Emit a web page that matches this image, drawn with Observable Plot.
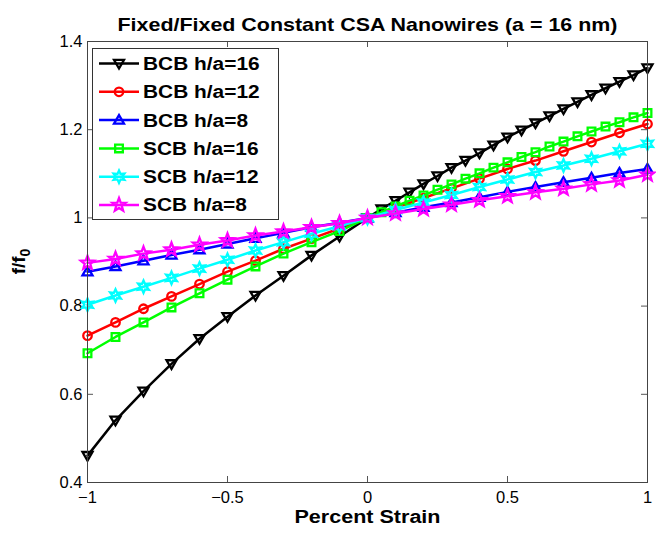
<!DOCTYPE html>
<html><head><meta charset="utf-8">
<script src="https://cdn.jsdelivr.net/npm/d3@7"></script>
<script src="https://cdn.jsdelivr.net/npm/@observablehq/plot@0.6"></script>
<style>body{margin:0;background:#fff;} svg{display:block}</style>
</head><body><div id="chart"></div>
<script>
const titleText = "Fixed/Fixed Constant CSA Nanowires (a = 16 nm)";
const xLabel = "Percent Strain";
const seriesNames = ["BCB h/a=16","BCB h/a=12","BCB h/a=8","SCB h/a=16","SCB h/a=12","SCB h/a=8"];
const seriesColors = ["#000000","#ff0000","#0000ff","#00ff00","#00ffff","#ff00ff"];

const xCoarse = [-1,-0.9,-0.8,-0.7,-0.6,-0.5,-0.4,-0.3,-0.2,-0.1,0,0.1,0.2,0.3,0.4,0.5,0.6,0.7,0.8,0.9,1];
const xFine = [-1,-0.9,-0.8,-0.7,-0.6,-0.5,-0.4,-0.3,-0.2,-0.1,0,0.05,0.1,0.15,0.2,0.25,0.3,0.35,0.4,0.45,0.5,0.55,0.6,0.65,0.7,0.75,0.8,0.85,0.9,0.95,1];

const bcb16 = [0.461,0.541,0.607,0.669,0.726,0.776,0.824,0.869,0.915,0.958,1.000,1.020,1.039,1.058,1.077,1.095,1.114,1.130,1.147,1.165,1.183,1.199,1.215,1.231,1.247,1.263,1.279,1.294,1.309,1.324,1.340];
const bcb12 = [0.733,0.763,0.794,0.822,0.850,0.878,0.903,0.930,0.953,0.976,1.000,1.023,1.045,1.067,1.089,1.111,1.130,1.151,1.172,1.193,1.213];
const bcb8  = [0.878,0.890,0.903,0.916,0.928,0.941,0.954,0.966,0.979,0.989,1.000,1.012,1.024,1.035,1.047,1.059,1.070,1.081,1.091,1.102,1.111];
const scb16 = [0.693,0.730,0.763,0.797,0.829,0.860,0.890,0.919,0.945,0.970,1.000,1.013,1.026,1.039,1.051,1.064,1.076,1.089,1.101,1.114,1.126,1.138,1.149,1.162,1.173,1.185,1.196,1.207,1.217,1.228,1.238];
const scb12 = [0.803,0.824,0.844,0.864,0.885,0.905,0.926,0.945,0.964,0.981,1.000,1.018,1.035,1.052,1.070,1.087,1.104,1.119,1.134,1.151,1.168];
const scb8  = [0.898,0.907,0.919,0.928,0.939,0.949,0.960,0.969,0.979,0.988,1.000,1.010,1.020,1.030,1.040,1.049,1.058,1.066,1.076,1.085,1.098];

const xTicks = [-1,-0.5,0,0.5,1];
const xTickLabels = ["\u22121","\u22120.5","0","0.5","1"];
const yTicks = [0.4,0.6,0.8,1,1.2,1.4];
const yTickLabels = ["0.4","0.6","0.8","1","1.2","1.4"];

// marker shapes (MATLAB-like)
function starSym(points, inner) {
  return {draw(ctx, size) {
    const R = Math.sqrt(size / Math.PI), r = R * inner;
    for (let i = 0; i < points * 2; i++) {
      const rad = i % 2 === 0 ? R : r;
      const a = -Math.PI / 2 + i * Math.PI / points;
      const x = rad * Math.cos(a), y = rad * Math.sin(a);
      if (i === 0) ctx.moveTo(x, y); else ctx.lineTo(x, y);
    }
    ctx.closePath();
  }};
}
const triDown = {draw(ctx, size) {const r = Math.sqrt(size / Math.PI); ctx.moveTo(0, r); ctx.lineTo(-r, -0.72 * r); ctx.lineTo(r, -0.72 * r); ctx.closePath();}};
const triUp = {draw(ctx, size) {const r = Math.sqrt(size / Math.PI); ctx.moveTo(0, -r); ctx.lineTo(-r, 0.72 * r); ctx.lineTo(r, 0.72 * r); ctx.closePath();}};
const circ = {draw(ctx, size) {const r = Math.sqrt(size / Math.PI) * 0.85; ctx.moveTo(r, 0); ctx.arc(0, 0, r, 0, 2 * Math.PI);}};
const sq = {draw(ctx, size) {const r = Math.sqrt(size / Math.PI) * 0.8; ctx.rect(-r, -r, 2 * r, 2 * r);}};
const hexa = starSym(6, 0.5);
const penta = starSym(5, 0.42);

const symbols = [triDown, circ, triUp, sq, hexa, penta];
const radii = [5, 5, 5, 4.8, 6.2, 7];
const seriesY = [bcb16, bcb12, bcb8, scb16, scb12, scb8];
const seriesX = [xFine, xCoarse, xCoarse, xFine, xCoarse, xCoarse];

const W = 656, H = 533, mL = 87, mR = 9, mT = 41, mB = 51;
const frameW = W - mL - mR, frameH = H - mT - mB;
const font = "'Liberation Sans', Arial, Helvetica, sans-serif";

const marks = [];
seriesY.forEach((ys, i) => {
  const rows = ys.map((v, j) => ({x: seriesX[i][j], y: v}));
  marks.push(Plot.line(rows, {x: "x", y: "y", stroke: seriesColors[i], strokeWidth: 2.5}));
  marks.push(Plot.dot(rows, {x: "x", y: "y", stroke: seriesColors[i], fill: "none", strokeWidth: 2.3, symbol: symbols[i], r: radii[i]}));
});

const plot = Plot.plot({
  width: W, height: H,
  marginLeft: mL, marginRight: mR, marginTop: mT, marginBottom: mB,
  style: {fontFamily: font, fontSize: "16px", background: "#fff", overflow: "visible"},
  x: {domain: [-1, 1]},
  y: {domain: [0.4, 1.4]},
  marks: [
    Plot.axisX({ticks: xTicks, tickFormat: (d) => xTickLabels[xTicks.indexOf(d)], tickSize: 0, tickPadding: 9, label: null, fontSize: 16.5, fill: "#000"}),
    Plot.axisY({ticks: yTicks, tickFormat: (d) => yTickLabels[yTicks.findIndex(t => Math.abs(t - d) < 1e-9)], tickSize: 0, tickPadding: 5, label: null, fontSize: 16.5, fill: "#000"}),
    Plot.tickX(xTicks.slice(1, -1), {x: (d) => d, insetTop: frameH - 6, stroke: "#555"}),
    Plot.tickX(xTicks.slice(1, -1), {x: (d) => d, insetBottom: frameH - 6, stroke: "#555"}),
    Plot.tickY(yTicks.slice(1, -1), {y: (d) => d, insetRight: frameW - 6, stroke: "#555"}),
    Plot.tickY(yTicks.slice(1, -1), {y: (d) => d, insetLeft: frameW - 6, stroke: "#555"}),
    ...marks,
    Plot.frame({stroke: "#444", strokeWidth: 1}),
    Plot.text([titleText], {frameAnchor: "top", dy: -24, fontWeight: "bold", fontSize: 18.5, fill: "#000", className: "ttl"}),
    Plot.text([xLabel], {frameAnchor: "bottom", dy: 40, fontWeight: "bold", fontSize: 17.5, fill: "#000", className: "xlab"})
  ]
});
document.getElementById("chart").appendChild(plot);

const svg = d3.select(plot);
// horizontal stretch of the title text to match the reference width
svg.selectAll(".ttl text").attr("textLength", 500).attr("lengthAdjust", "spacingAndGlyphs");
svg.selectAll(".xlab text").attr("textLength", 146).attr("lengthAdjust", "spacingAndGlyphs");

// y-axis label with subscript
const yl = svg.append("text")
  .attr("transform", `translate(25,${mT + frameH / 2}) rotate(-90)`)
  .attr("text-anchor", "middle")
  .attr("font-family", font).attr("font-weight", "bold").attr("font-size", 19).attr("fill", "#000");
yl.append("tspan").text("f/f");
yl.append("tspan").attr("dy", 5).attr("font-size", 14).text("0");

// legend
const lg = svg.append("g");
const lx = 92, ly = 48, lw = 186, lh = 171;
lg.append("rect").attr("x", lx + 0.5).attr("y", ly + 0.5).attr("width", lw).attr("height", lh)
  .attr("fill", "#fff").attr("stroke", "#333").attr("stroke-width", 1);
seriesNames.forEach((name, i) => {
  const cy = ly + 15.5 + i * 28.3;
  lg.append("line").attr("x1", lx + 7).attr("x2", lx + 47).attr("y1", cy).attr("y2", cy)
    .attr("stroke", seriesColors[i]).attr("stroke-width", 2.5);
  lg.append("path").attr("d", d3.symbol(symbols[i], Math.PI * radii[i] * radii[i])())
    .attr("transform", `translate(${lx + 27},${cy})`)
    .attr("fill", "none").attr("stroke", seriesColors[i]).attr("stroke-width", 2.3);
  lg.append("text").attr("transform", `translate(${lx + 51},${cy}) scale(1.13,1)`).attr("dy", "0.35em")
    .attr("text-anchor", "start")
    .attr("font-family", font).attr("font-weight", "bold").attr("font-size", 18.5).attr("fill", "#000")
    .text(name);
});
</script>
</body></html>
